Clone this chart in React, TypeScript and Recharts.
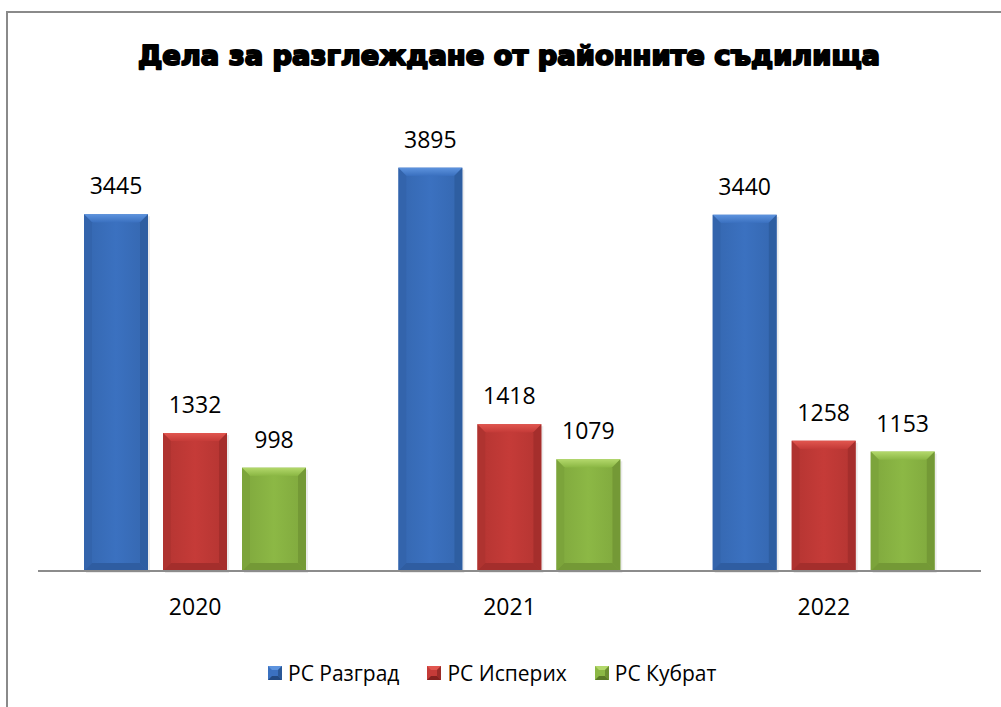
import React from 'react'
import { BarChart, Bar, XAxis, YAxis, LabelList } from 'recharts'

const years = ['2020', '2021', '2022']
const razgrad = [3445, 3895, 3440]
const isperih = [1332, 1418, 1258]
const kubrat = [998, 1079, 1153]
const seriesNames = ['РС Разград', 'РС Исперих', 'РС Кубрат']
const seriesKeys = ['razgrad', 'isperih', 'kubrat']

const palettes = [
  { face: '#3b71c0', light: '#5d93de', dark: '#2b5897', darker: '#234a82' },
  { face: '#c53b38', light: '#e1564f', dark: '#9a2b28', darker: '#84211f' },
  { face: '#8cb845', light: '#b3d86b', dark: '#6c8f31', darker: '#5b7a27' },
]

const data = years.map((y, i) => ({
  year: y,
  razgrad: razgrad[i],
  isperih: isperih[i],
  kubrat: kubrat[i],
}))

const FONT = '"Open Sans", "Noto Sans", sans-serif'

// bar with a bevelled look, like the office chart style
function BevelBar(props: any) {
  const { x, y, width, height, pal, idx } = props
  if (!height || height <= 0) return null
  const b = 8
  const gid = `face${idx}`
  const tid = `top${idx}`
  return (
    <g>
      <defs>
        <linearGradient id={gid} x1="0" y1="0" x2="1" y2="0">
          <stop offset="0%" stopColor={pal.dark} />
          <stop offset="50%" stopColor={pal.face} />
          <stop offset="100%" stopColor={pal.dark} />
        </linearGradient>
        <linearGradient id={tid} x1="0" y1="0" x2="0" y2="1">
          <stop offset="0%" stopColor={pal.light} />
          <stop offset="100%" stopColor={pal.face} />
        </linearGradient>
      </defs>
      <rect x={x + 2} y={y + 2} width={width} height={height} fill="#000" opacity={0.08} />
      <rect x={x} y={y} width={width} height={height} fill={pal.face} />
      <rect x={x + b} y={y + b} width={width - 2 * b} height={height - 2 * b} fill={`url(#${gid})`} opacity={0.3} />
      <polygon points={`${x},${y} ${x + width},${y} ${x + width - b},${y + b} ${x + b},${y + b}`} fill={`url(#${tid})`} />
      <polygon points={`${x},${y} ${x + b},${y + b} ${x + b},${y + height - b} ${x},${y + height}`} fill={pal.dark} opacity={0.5} />
      <polygon points={`${x + width},${y} ${x + width - b},${y + b} ${x + width - b},${y + height - b} ${x + width},${y + height}`} fill={pal.dark} opacity={0.75} />
      <polygon points={`${x},${y + height} ${x + b},${y + height - b} ${x + width - b},${y + height - b} ${x + width},${y + height}`} fill={pal.darker} opacity={0.5} />
    </g>
  )
}

function LegendIcon({ pal }: { pal: any }) {
  return (
    <svg width={14} height={14} style={{ display: 'block' }}>
      <rect x={0} y={0} width={14} height={14} fill={pal.face} />
      <polygon points="0,0 14,0 10,4 4,4" fill={pal.light} />
      <polygon points="14,0 10,4 10,10 14,14" fill={pal.dark} />
      <polygon points="0,14 4,10 10,10 14,14" fill={pal.darker} />
    </svg>
  )
}

export default function App() {
  return (
    <div style={{ position: 'relative', width: 1001, height: 707, background: '#fff', overflow: 'hidden' }}>
      <style>{'body{margin:0}'}</style>
      <div
        style={{
          position: 'absolute',
          left: 6,
          top: 11,
          width: 1100,
          height: 800,
          borderLeft: '2px solid #8a8a8a',
          borderTop: '2px solid #8a8a8a',
        }}
      />
      <div style={{ position: 'absolute', left: 0, top: 0 }}>
        <BarChart
          width={1001}
          height={707}
          data={data}
          margin={{ top: 105, right: 20, bottom: 96, left: 38 }}
          barSize={64}
          barGap={15}
        >
          <YAxis hide domain={[0, 4500]} />
          <XAxis
            dataKey="year"
            height={40}
            tickLine={false}
            axisLine={{ stroke: '#8c8c8c', strokeWidth: 2 }}
            tickMargin={22}
            tick={{ fill: '#000', fontSize: 23, fontFamily: FONT }}
          />
          {seriesKeys.map((k, i) => (
            <Bar
              key={k}
              dataKey={k}
              name={seriesNames[i]}
              isAnimationActive={false}
              shape={(p: any) => <BevelBar {...p} pal={palettes[i]} idx={i} />}
            >
              <LabelList
                dataKey={k}
                position="top"
                offset={20}
                fill="#000"
                fontSize={23}
                fontFamily={FONT}
              />
            </Bar>
          ))}
        </BarChart>
      </div>
      <svg width={1001} height={100} style={{ position: 'absolute', left: 0, top: 0 }}>
        <text
          x={138}
          y={65}
          textLength={742}
          lengthAdjust="spacingAndGlyphs"
          fontFamily='"DejaVu Sans", sans-serif'
          fontWeight="bold"
          fontSize={27}
          fill="#000"
          stroke="#000"
          strokeWidth={2}
          strokeLinejoin="round"
        >
          Дела за разглеждане от районните съдилища
        </text>
      </svg>
      <div
        style={{
          position: 'absolute',
          left: 268,
          top: 659,
          display: 'flex',
          alignItems: 'center',
          gap: 28,
          fontFamily: FONT,
          fontSize: 21,
          color: '#000',
        }}
      >
        {seriesNames.map((n, i) => (
          <div key={n} style={{ display: 'flex', alignItems: 'center', gap: 6 }}>
            <LegendIcon pal={palettes[i]} />
            <span style={{ lineHeight: '28px' }}>{n}</span>
          </div>
        ))}
      </div>
    </div>
  )
}
